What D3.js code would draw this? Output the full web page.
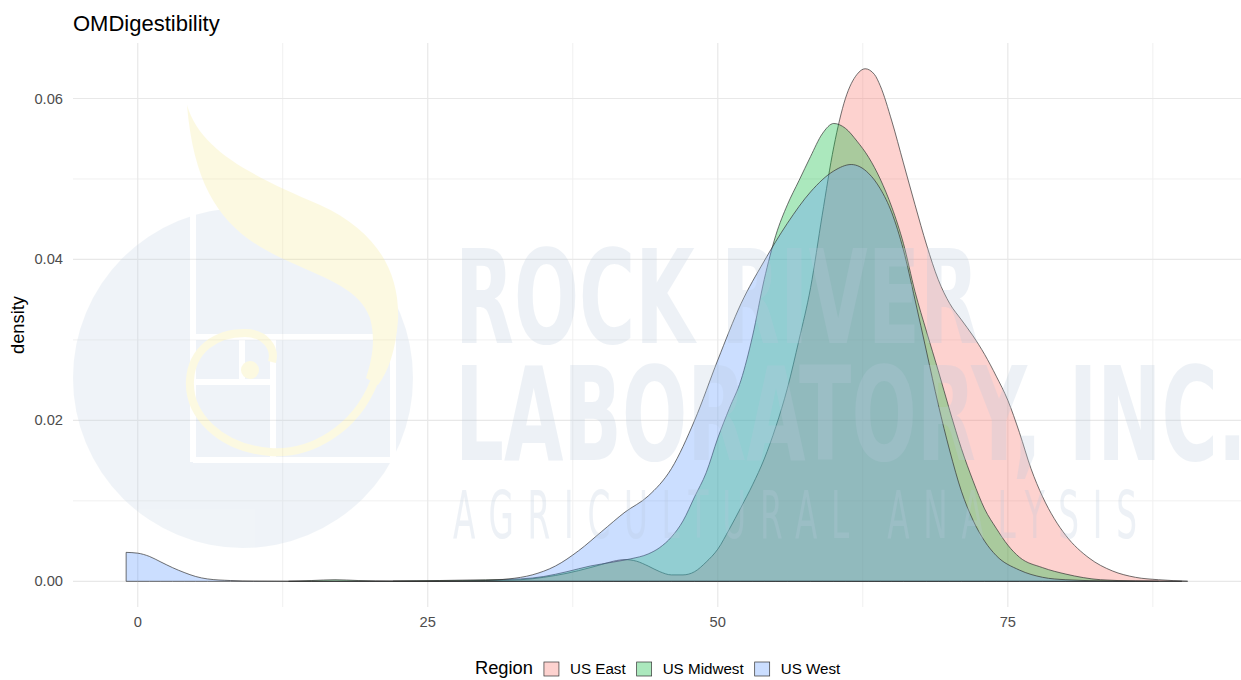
<!DOCTYPE html>
<html>
<head>
<meta charset="utf-8">
<script src="https://cdn.jsdelivr.net/npm/d3@7"></script>
<style>
  body { margin: 0; background: #fff; }
  svg { display: block; font-family: "Liberation Sans", Arial, sans-serif; }
</style>
</head>
<body>
<svg id="chart" width="1241" height="680"></svg>
<script>
// density curves, one x list and one density list per region
var regions = ["US East", "US Midwest", "US West"];
var regionColors = ["#F8766D", "#00BA38", "#619CFF"];

var eastX = [22, 26, 30, 33, 35, 37, 39, 40, 41, 42, 43, 44, 45, 46, 47, 48, 49, 50, 51, 52, 53, 54, 55, 56, 57, 58, 59, 60, 61, 62, 62.7, 63.5, 64, 65, 66, 67, 68, 69, 70, 71, 72, 73, 74, 75, 76, 77, 78, 79, 80, 82, 84, 86, 88, 90.5];
var eastDensity = [0.00002, 0.00005, 0.0001, 0.0002, 0.0005, 0.0010, 0.0017, 0.0021, 0.0025, 0.0027, 0.0025, 0.0019, 0.0012, 0.0008, 0.0008, 0.0012, 0.0024, 0.0040, 0.0065, 0.0092, 0.0120, 0.0152, 0.0192, 0.0240, 0.0300, 0.0365, 0.0455, 0.0540, 0.0600, 0.0630, 0.0637, 0.0630, 0.0616, 0.0572, 0.0520, 0.0468, 0.0418, 0.0375, 0.0345, 0.0325, 0.0305, 0.0282, 0.0255, 0.0225, 0.0185, 0.0140, 0.0105, 0.0078, 0.0057, 0.0029, 0.0013, 0.0005, 0.0002, 0.00002];

var midwestX = [13, 15, 17, 19, 22, 26, 30, 33, 35, 37, 39, 41, 42.5, 44, 45, 46, 47, 48, 49, 50, 51, 52, 53, 54, 55, 56, 57, 58, 59, 60, 61, 62, 63, 64, 65, 66, 67, 68, 69, 70, 71, 72, 73, 74, 75, 76, 78, 80, 83, 86, 90];
var midwestDensity = [0, 0.0001, 0.0002, 0.0001, 0.00003, 0.0001, 0.0002, 0.0003, 0.0006, 0.0012, 0.0019, 0.0024, 0.0028, 0.0034, 0.0042, 0.0055, 0.0075, 0.0105, 0.0135, 0.0178, 0.0215, 0.0250, 0.0305, 0.0375, 0.0430, 0.0468, 0.0498, 0.0528, 0.0556, 0.0569, 0.0563, 0.0547, 0.0527, 0.0500, 0.0465, 0.0420, 0.0360, 0.0310, 0.0262, 0.0212, 0.0165, 0.0125, 0.0090, 0.0066, 0.0045, 0.0030, 0.0017, 0.0009, 0.0002, 0.00005, 0];

var westX = [-1, 0, 1, 2, 3, 4, 5, 6, 8, 10, 15, 20, 25, 30, 32, 34, 36, 38, 40, 42, 44, 46, 48, 50, 52, 54, 56, 58, 60, 61.5, 63, 64, 65, 66, 67, 68, 69, 70, 71, 72, 73, 74, 76, 78, 80, 84, 88];
var westDensity = [0.0036, 0.0035, 0.0031, 0.0024, 0.0017, 0.0011, 0.0006, 0.0003, 0.0001, 0.00003, 0, 0, 0, 0.0001, 0.0003, 0.0008, 0.0019, 0.0038, 0.0062, 0.0086, 0.0106, 0.0140, 0.0200, 0.0275, 0.0345, 0.0398, 0.0445, 0.0484, 0.0510, 0.0518, 0.0507, 0.0488, 0.0458, 0.0412, 0.0350, 0.0285, 0.0220, 0.0162, 0.0112, 0.0076, 0.0050, 0.0032, 0.0014, 0.0005, 0.0002, 0.00003, 0];

var xTicks = [0, 25, 50, 75];
var xMinor = [12.5, 37.5, 62.5, 87.5];
var yTicks = [0, 0.02, 0.04, 0.06];
var yMinor = [0.01, 0.03, 0.05];

var seriesX = [eastX, midwestX, westX];
var seriesY = [eastDensity, midwestDensity, westDensity];

var svg = d3.select("#chart");
var panelLeft = 73, panelRight = 1241, panelTop = 43, panelBottom = 607;

// scales with ggplot's 5% padding around the data range
var x = d3.scaleLinear().domain([-5.58, 95.1]).range([panelLeft, panelRight]);
var y = d3.scaleLinear().domain([-0.00319, 0.0669]).range([panelBottom, panelTop]);

// grid lines
var grid = svg.append("g");
grid.selectAll(".vmin").data(xMinor).enter().append("line")
    .attr("x1", d => x(d)).attr("x2", d => x(d))
    .attr("y1", panelTop).attr("y2", panelBottom)
    .attr("stroke", "#f0f0f0").attr("stroke-width", 1);
grid.selectAll(".hmin").data(yMinor).enter().append("line")
    .attr("x1", panelLeft).attr("x2", panelRight)
    .attr("y1", d => y(d)).attr("y2", d => y(d))
    .attr("stroke", "#f0f0f0").attr("stroke-width", 1);
grid.selectAll(".vmaj").data(xTicks).enter().append("line")
    .attr("x1", d => x(d)).attr("x2", d => x(d))
    .attr("y1", panelTop).attr("y2", panelBottom)
    .attr("stroke", "#e8e8e8").attr("stroke-width", 1.2);
grid.selectAll(".hmaj").data(yTicks).enter().append("line")
    .attr("x1", panelLeft).attr("x2", panelRight)
    .attr("y1", d => y(d)).attr("y2", d => y(d))
    .attr("stroke", "#e8e8e8").attr("stroke-width", 1.2);

// density areas, West drawn last so it sits on top
var area = d3.area()
    .x(d => x(d[0]))
    .y0(y(0))
    .y1(d => y(d[1]))
    .curve(d3.curveMonotoneX);

regions.forEach(function(r, i) {
  var pts = d3.zip(seriesX[i], seriesY[i]);
  svg.append("path")
      .datum(pts)
      .attr("d", area)
      .attr("fill", regionColors[i])
      .attr("fill-opacity", 0.33)
      .attr("stroke", "#333")
      .attr("stroke-width", 0.7);
});

// faint lab watermark laid over the panel
var wm = svg.append("g").attr("opacity", 0.25);
wm.append("circle").attr("cx", 243).attr("cy", 378).attr("r", 170).attr("fill", "#c3d3e4");
var white = "#ffffff";
[[193, 212, 193, 462], [193, 460, 393, 460], [195, 337, 393, 337], [273, 340, 273, 458],
 [195, 382, 271, 382], [242, 340, 242, 380], [393, 337, 393, 460]].forEach(function(l) {
  wm.append("line").attr("x1", l[0]).attr("y1", l[1]).attr("x2", l[2]).attr("y2", l[3])
    .attr("stroke", white).attr("stroke-width", 6);
});
wm.append("path")
    .attr("d", "M187,105 C200,150 250,175 320,205 C375,230 400,270 398,320 C396,350 388,372 378,385 " +
               "L366,378 C372,360 376,340 370,318 C360,290 330,280 290,262 C230,236 195,200 187,105 Z")
    .attr("fill", "#f7ea8a");
wm.append("path")
    .attr("d", "M374,382 C355,430 310,455 270,452 C220,448 188,415 190,380 C192,350 215,333 245,333 " +
               "C265,333 276,348 272,362")
    .attr("fill", "none").attr("stroke", "#f7ea8a").attr("stroke-width", 8);
wm.append("circle").attr("cx", 250).attr("cy", 370).attr("r", 9).attr("fill", "#f7ea8a");

var wmFont = '"Liberation Sans Narrow", "DejaVu Sans Condensed", sans-serif';
wm.append("text").text("ROCK RIVER")
    .attr("x", 455).attr("y", 343)
    .attr("font-family", wmFont).attr("font-weight", "bold").attr("font-size", 130)
    .attr("textLength", 524).attr("lengthAdjust", "spacingAndGlyphs")
    .attr("fill", "#b9cadd");
wm.append("text").text("LABORATORY, INC.")
    .attr("x", 455).attr("y", 460)
    .attr("font-family", wmFont).attr("font-weight", "bold").attr("font-size", 130)
    .attr("textLength", 792).attr("lengthAdjust", "spacingAndGlyphs")
    .attr("fill", "#b9cadd");
// narrow glyphs spread wide: squeeze horizontally, then spread with spacing
wm.append("text").text("AGRICULTURAL ANALYSIS")
    .attr("transform", "translate(453,538) scale(0.55,1)")
    .attr("font-family", wmFont).attr("font-size", 66)
    .attr("textLength", 684 / 0.55).attr("lengthAdjust", "spacing")
    .attr("fill", "#b9cadd");

// axis labels
svg.selectAll(".xlab").data(xTicks).enter().append("text")
    .attr("x", d => x(d)).attr("y", 627)
    .attr("text-anchor", "middle")
    .attr("font-size", 14.7).attr("fill", "#4d4d4d")
    .text(d => d);
svg.selectAll(".ylab").data(yTicks).enter().append("text")
    .attr("x", 63).attr("y", d => y(d) + 5)
    .attr("text-anchor", "end")
    .attr("font-size", 14.7).attr("fill", "#4d4d4d")
    .text(d => d3.format(".2f")(d));

svg.append("text")
    .attr("transform", "translate(24," + ((panelTop + panelBottom) / 2) + ") rotate(-90)")
    .attr("text-anchor", "middle")
    .attr("font-size", 18.3).attr("fill", "#000")
    .text("density");

svg.append("text")
    .attr("x", 73).attr("y", 31)
    .attr("font-size", 22).attr("fill", "#000")
    .text("OMDigestibility");

// legend at the bottom
var legend = svg.append("g");
var lx = 475, ly = 668;
var title = legend.append("text").attr("x", lx).attr("y", ly + 6)
    .attr("font-size", 18.3).attr("fill", "#000").text("Region");
lx += title.node().getComputedTextLength() + 11;
regions.forEach(function(r, i) {
  legend.append("rect")
      .attr("x", lx).attr("y", ly - 6).attr("width", 15).attr("height", 14)
      .attr("fill", regionColors[i]).attr("fill-opacity", 0.33)
      .attr("stroke", "#333").attr("stroke-width", 0.7);
  var t = legend.append("text").attr("x", lx + 26).attr("y", ly + 6)
      .attr("font-size", 15.2).attr("fill", "#000").text(r);
  lx += 26 + t.node().getComputedTextLength() + 11;
});
</script>
</body>
</html>
